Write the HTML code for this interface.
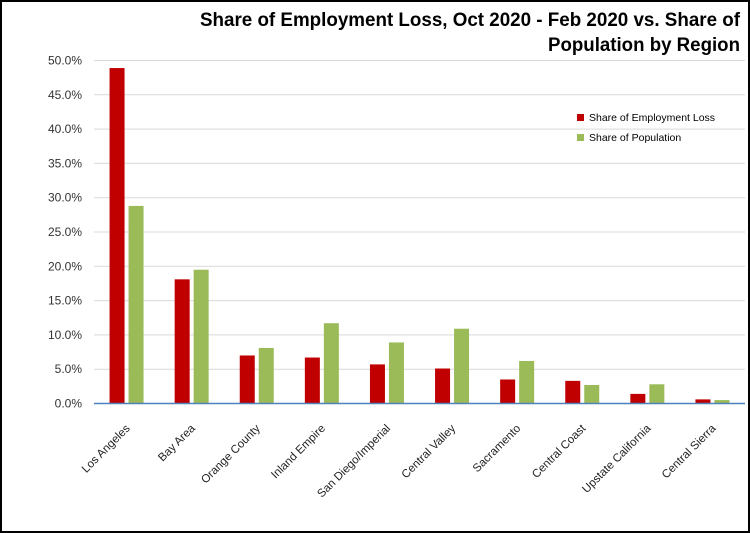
<!DOCTYPE html>
<html><head><meta charset="utf-8"><style>
body{margin:0;background:#fff}
svg{display:block;font-family:"Liberation Sans",Calibri,sans-serif}
</style></head><body>
<svg width="750" height="533" viewBox="0 0 750 533">
<rect x="1" y="1" width="748" height="531" fill="#fff" stroke="#000" stroke-width="2"/>
<text x="740" y="26" text-anchor="end" font-size="19" font-weight="bold" textLength="540" lengthAdjust="spacingAndGlyphs">Share of Employment Loss, Oct 2020 - Feb 2020 vs. Share of</text>
<text x="740" y="51" text-anchor="end" font-size="19" font-weight="bold" textLength="192" lengthAdjust="spacingAndGlyphs">Population by Region</text>
<g stroke="#d9d9d9" stroke-width="1">
<line x1="94" x2="745" y1="60.5" y2="60.5"/><line x1="94" x2="745" y1="94.8" y2="94.8"/>
<line x1="94" x2="745" y1="129.1" y2="129.1"/><line x1="94" x2="745" y1="163.4" y2="163.4"/>
<line x1="94" x2="745" y1="197.7" y2="197.7"/><line x1="94" x2="745" y1="232" y2="232"/>
<line x1="94" x2="745" y1="266.3" y2="266.3"/><line x1="94" x2="745" y1="300.6" y2="300.6"/>
<line x1="94" x2="745" y1="334.9" y2="334.9"/><line x1="94" x2="745" y1="369.2" y2="369.2"/>
</g>
<g font-size="12" text-anchor="end" fill="#333">
<text x="82" y="64.5">50.0%</text><text x="82" y="98.8">45.0%</text><text x="82" y="133.1">40.0%</text>
<text x="82" y="167.4">35.0%</text><text x="82" y="201.7">30.0%</text><text x="82" y="236">25.0%</text>
<text x="82" y="270.3">20.0%</text><text x="82" y="304.6">15.0%</text><text x="82" y="338.9">10.0%</text>
<text x="82" y="373.2">5.0%</text><text x="82" y="407.5">0.0%</text>
</g>
<g id="bars"></g>
<line x1="94" x2="745" y1="403.5" y2="403.5" stroke="#4f81bd" stroke-width="1.5"/>
<g id="labels" font-size="11.5" fill="#222"></g>
<rect x="577" y="114" width="7" height="7" fill="#c00000"/>
<text x="589" y="121" font-size="10.5">Share of Employment Loss</text>
<rect x="577" y="134" width="7" height="7" fill="#9bbb59"/>
<text x="589" y="141" font-size="10.5">Share of Population</text>
<script>
var d=[["Los Angeles",48.9,28.8],["Bay Area",18.1,19.5],["Orange County",7.0,8.1],["Inland Empire",6.7,11.7],["San Diego/Imperial",5.7,8.9],["Central Valley",5.1,10.9],["Sacramento",3.5,6.2],["Central Coast",3.3,2.7],["Upstate California",1.4,2.8],["Central Sierra",0.6,0.5]];
var ns="http://www.w3.org/2000/svg",b=document.getElementById("bars"),l=document.getElementById("labels");
d.forEach(function(r,i){var cx=94+65.1*(i+0.5);
[[r[1],"#c00000",cx-17],[r[2],"#9bbb59",cx+2]].forEach(function(s){var h=s[0]*6.86;var e=document.createElementNS(ns,"rect");e.setAttribute("x",s[2]);e.setAttribute("y",403.5-h);e.setAttribute("width",15);e.setAttribute("height",h);e.setAttribute("fill",s[1]);b.appendChild(e);});
var t=document.createElementNS(ns,"text");t.setAttribute("text-anchor","end");t.setAttribute("transform","translate("+(cx+4)+",429) rotate(-45)");t.textContent=r[0];l.appendChild(t);});
</script>
</svg>
</body></html>
